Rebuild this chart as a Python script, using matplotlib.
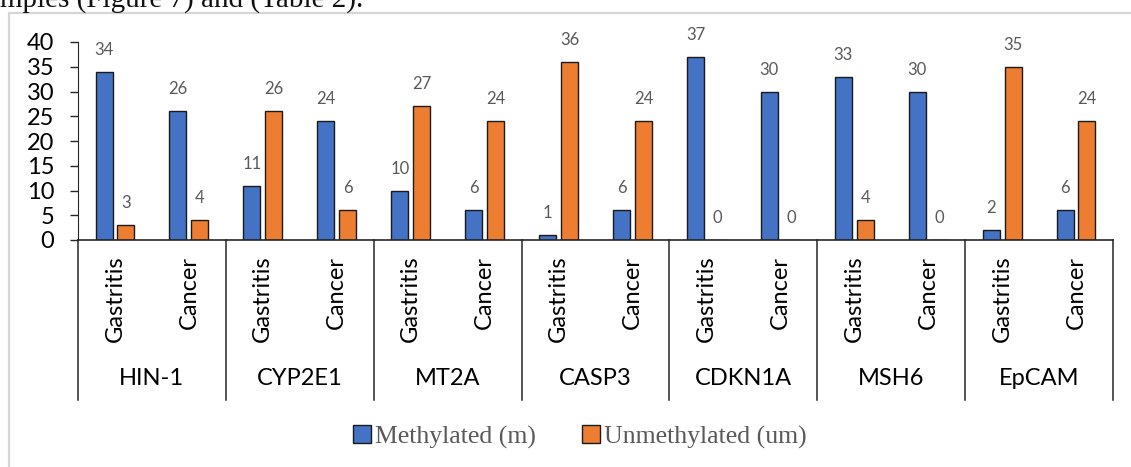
import matplotlib.pyplot as plt
from matplotlib.patches import Patch, Rectangle
from matplotlib.lines import Line2D
import numpy as np

genes = ['HIN-1', 'CYP2E1', 'MT2A', 'CASP3', 'CDKN1A', 'MSH6', 'EpCAM']
samples = ['Gastritis', 'Cancer']
methylated = [34, 26, 11, 24, 10, 6, 1, 6, 37, 30, 33, 30, 2, 6]
unmethylated = [3, 4, 26, 6, 27, 24, 36, 24, 0, 0, 4, 0, 35, 24]

BLUE = '#4472C4'
ORANGE = '#ED7D31'
EDGE = '#1a1a1a'
GRAY = '#595959'
SANS = 'Lato'

W, H = 1131, 467
fig = plt.figure(figsize=(W / 100, H / 100), dpi=100)

# page frame and the clipped line of text above the chart
fig.add_artist(Rectangle((9 / W, -0.1), 1.2, 1 - 13 / H + 0.1,
                         transform=fig.transFigure, fill=False,
                         edgecolor='#d6d6d6', lw=1.6))
fig.text(0, 1 - 7 / H, 'mples (Figure 7) and (Table 2).', va='baseline',
         ha='left', fontsize=21, family='Liberation Serif', color='#111111')

ax = fig.add_axes([78 / W, (H - 240) / H, (1113 - 78) / W, 198 / H])

n = len(methylated)
x = np.arange(n) + 0.5
bw = 0.23
b1 = ax.bar(x - 0.148, methylated, bw, color=BLUE, edgecolor=EDGE, lw=1)
b2 = ax.bar(x + 0.148, unmethylated, bw, color=ORANGE, edgecolor=EDGE, lw=1)

for bars, vals in ((b1, methylated), (b2, unmethylated)):
    for b, v in zip(bars, vals):
        ax.annotate(str(v), (b.get_x() + b.get_width() / 2, v),
                    xytext=(0, 10), textcoords='offset points',
                    ha='center', va='bottom', fontsize=12,
                    color=GRAY, family=SANS)

ax.set_xlim(0, n)
ax.set_ylim(0, 40)
ax.set_yticks(range(0, 41, 5))
ax.set_xticks([])
for s in ('top', 'right', 'bottom'):
    ax.spines[s].set_visible(False)
ax.spines['left'].set_color('#262626')
ax.axhline(0, color='#262626', lw=1.2, clip_on=False)
ax.tick_params(axis='y', length=6, width=1, pad=11, labelsize=17,
               color='#262626')
for t in ax.get_yticklabels():
    t.set_family(SANS)

# two-level category axis: sample labels, gene labels and dividers
trans = ax.get_xaxis_transform()
for i in range(len(genes) + 1):
    ax.add_line(Line2D([2 * i, 2 * i], [0, -0.81], transform=trans,
                       color='#262626', lw=1.1, clip_on=False))
for i, xi in enumerate(x):
    ax.text(xi, -0.08, samples[i % 2], transform=trans, rotation=90,
            ha='center', va='top', fontsize=17, family=SANS)
for g, name in enumerate(genes):
    ax.text(2 * g + 1, -0.70, name, transform=trans, ha='center',
            va='center', fontsize=17, family=SANS)

handles = [Patch(facecolor=BLUE, edgecolor=EDGE, lw=1),
           Patch(facecolor=ORANGE, edgecolor=EDGE, lw=1)]
fig.legend(handles, ['Methylated (m)', 'Unmethylated (um)'], loc='center',
           bbox_to_anchor=(580 / W, 1 - 437 / H), ncol=2, frameon=False,
           prop={'family': 'Liberation Serif', 'size': 18.5}, labelcolor=GRAY,
           handlelength=0.7, handleheight=0.7, handletextpad=0.15,
           columnspacing=1.8)

fig.savefig('out.png', dpi=100)
